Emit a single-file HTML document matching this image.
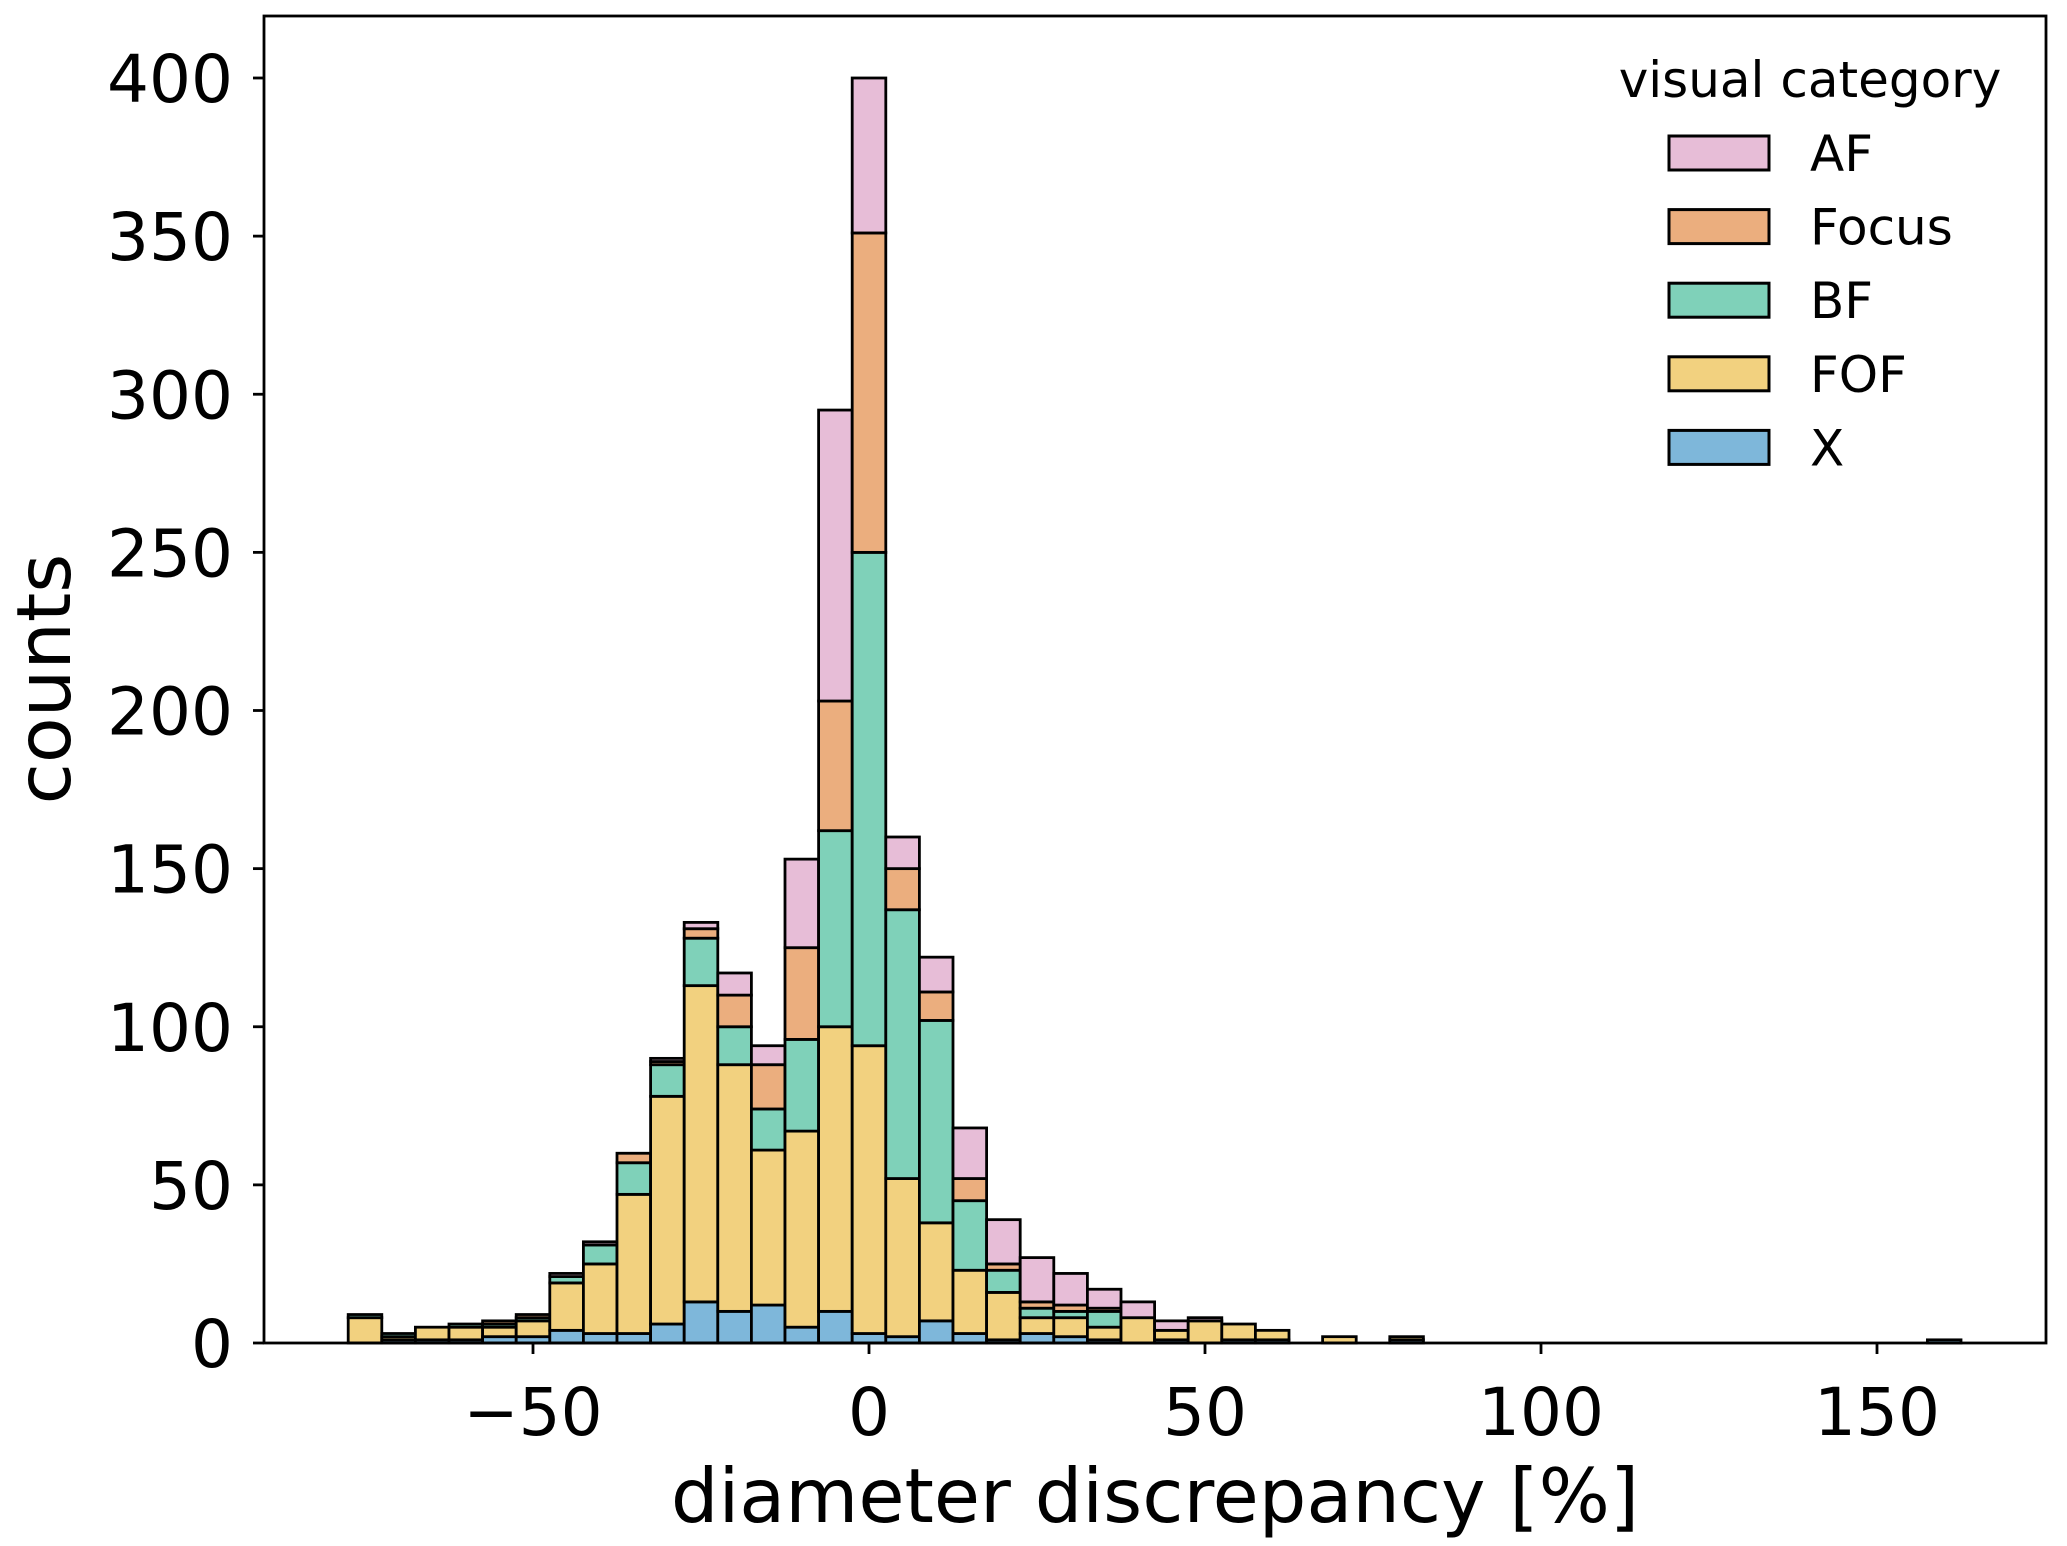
<!DOCTYPE html>
<html><head><meta charset="utf-8"><style>
html,body{margin:0;padding:0;background:#fff;}
svg{display:block;font-family:"DejaVu Sans","Liberation Sans",sans-serif;}
</style></head><body>
<svg id="chart" width="2067" height="1546" viewBox="0 0 2067 1546" xmlns="http://www.w3.org/2000/svg">
<g id="bars"></g>
<rect x="264" y="16" width="1782" height="1327" fill="none" stroke="#000" stroke-width="2.8"/>
<g id="axes"></g>
<text x="1155" y="1522" font-size="75" text-anchor="middle">diameter discrepancy [%]</text>
<text transform="translate(70,679) rotate(-90)" font-size="75" text-anchor="middle">counts</text>
<g id="legend"></g>
</svg>
<script>
const binCenters = [-75,-70,-65,-60,-55,-50,-45,-40,-35,-30,-25,-20,-15,-10,-5,0,5,10,15,20,25,30,35,40,45,50,55,60,65,70,75,80,160];
const seriesNames = ["X","FOF","BF","Focus","AF"];
const seriesColors = ["#7eb7da","#f2d17f","#7fd1b9","#ebae7e","#e7bdd7"];
const xVals     = [0,1,1,1,2,2,4,3,3,6,13,10,12,5,10,3,2,7,3,1,3,2,1,0,1,0,1,1,0,0,0,1,1];
const fofVals   = [8,1,4,4,3,5,15,22,44,72,100,78,49,62,90,91,50,31,20,15,5,6,4,8,3,7,5,3,0,2,0,1,0];
const bfVals    = [1,1,0,1,1,1,2,6,10,10,15,12,13,29,62,156,85,64,22,7,3,2,5,0,0,0,0,0,0,0,0,0,0];
const focusVals = [0,0,0,0,1,1,0,0,3,1,3,10,14,29,41,101,13,9,7,2,2,2,1,0,0,0,0,0,0,0,0,0,0];
const afVals    = [0,0,0,0,0,0,1,1,0,1,2,7,6,28,92,49,10,11,16,14,14,10,6,5,3,1,0,0,0,0,0,0,0];
const xTicks = [-50,0,50,100,150];
const xTickLabels = ["\u221250","0","50","100","150"];
const yTicks = [0,50,100,150,200,250,300,350,400];
const binWidth = 5;

const NS="http://www.w3.org/2000/svg";
const X0=869, XS=6.72, Y0=1343, YS=(1343-78)/400;
const xs=v=>X0+v*XS, ys=v=>Y0-v*YS;
const all=[xVals,fofVals,bfVals,focusVals,afVals];
const bars=document.getElementById('bars');
binCenters.forEach((c,i)=>{
  let base=0;
  all.forEach((arr,s)=>{
    const v=arr[i]; if(!v) return;
    const r=document.createElementNS(NS,'rect');
    r.setAttribute('x',xs(c-binWidth/2));
    r.setAttribute('width',binWidth*XS);
    r.setAttribute('y',ys(base+v));
    r.setAttribute('height',v*YS);
    r.setAttribute('fill',seriesColors[s]);
    r.setAttribute('stroke','#000');
    r.setAttribute('stroke-width','2.8');
    
    
    bars.appendChild(r);
    base+=v;
  });
});
const axes=document.getElementById('axes');
function mk(tag,attrs,txt){const e=document.createElementNS(NS,tag);for(const k in attrs)e.setAttribute(k,attrs[k]);if(txt!==undefined)e.textContent=txt;axes.appendChild(e);return e;}
xTicks.forEach((t,i)=>{
  const l=mk('line',{x1:xs(t),x2:xs(t),y1:1343,y2:1354,stroke:'#000','stroke-width':2.8});
  
  
  const tx=mk('text',{x:xs(t),y:1435,'font-size':66,'text-anchor':'middle'},xTickLabels[i]);
  
  
});
yTicks.forEach(t=>{
  const l=mk('line',{x1:253,x2:264,y1:ys(t),y2:ys(t),stroke:'#000','stroke-width':2.8});
  
  
  const tx=mk('text',{x:233,y:ys(t)+24,'font-size':66,'text-anchor':'end'},String(t));
  
  
});
const lg=document.getElementById('legend');
const tt=document.createElementNS(NS,'text');
tt.setAttribute('x',1810);tt.setAttribute('y',97);tt.setAttribute('font-size',50);tt.setAttribute('text-anchor','middle');
tt.textContent='visual category';


lg.appendChild(tt);
const order=[4,3,2,1,0];
order.forEach((s,k)=>{
  const y=136+k*73.6;
  const r=document.createElementNS(NS,'rect');
  r.setAttribute('x',1669);r.setAttribute('y',y);r.setAttribute('width',100);r.setAttribute('height',34);
  r.setAttribute('fill',seriesColors[s]);r.setAttribute('stroke','#000');r.setAttribute('stroke-width','3');
  
  
  lg.appendChild(r);
  const t=document.createElementNS(NS,'text');
  t.setAttribute('x',1810);t.setAttribute('y',y+35);t.setAttribute('font-size',50);
  t.textContent=seriesNames[s];
  
  
  lg.appendChild(t);
});
</script>
</body></html>
